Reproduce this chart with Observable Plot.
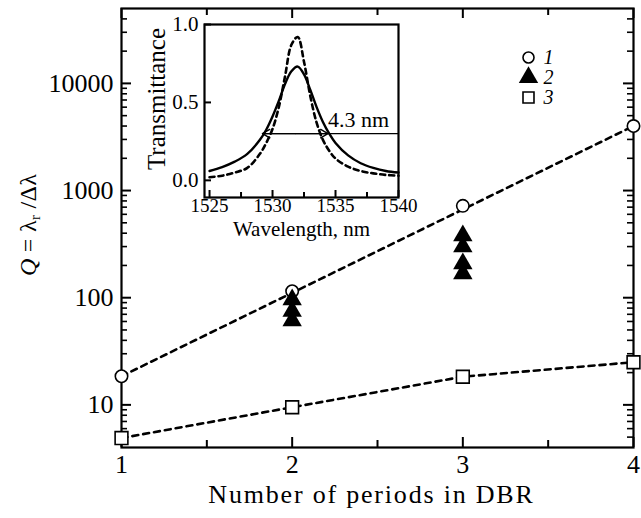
<!DOCTYPE html>
<html><head><meta charset="utf-8">
<script src="https://cdn.jsdelivr.net/npm/d3@7"></script>
<script src="https://cdn.jsdelivr.net/npm/@observablehq/plot@0.6"></script>
<style>
html,body{margin:0;padding:0;background:#fff;}
#wrap{position:relative;width:641px;height:518px;font-family:"Liberation Serif","Times New Roman",serif;color:#000;}
#wrap svg{position:absolute;overflow:visible;font-family:"Liberation Serif","Times New Roman",serif !important;}
#wrap svg text{font-family:"Liberation Serif","Times New Roman",serif !important;}
#ylab{position:absolute;left:28px;top:225px;transform:translate(-50%,-50%) rotate(-90deg);font-size:24px;letter-spacing:0.3px;white-space:nowrap;font-family:"Liberation Serif",serif;}
#ylab sub{font-size:0.62em;vertical-align:-0.28em;line-height:0;}
</style></head><body><div id="wrap"><div id="ylab"><i>Q</i> = λ<sub>r</sub> /Δλ</div></div>
<script>
// ---- main chart data ----
const periods = [1, 2, 3, 4];
const q1 = [18.5, 115, 720, 4000];          // series 1 (open circles)
const q3 = [4.9, 9.5, 18.3, 25];            // series 3 (open squares)
const tri2X = [2, 2, 2, 3, 3, 3, 3];        // series 2 (filled triangles)
const tri2Y = [96, 75, 61, 380, 300, 208, 168];
const fit1X = [1, 4];                       // dashed guide through series 1
const fit1Y = [18.5, 4000];
const xMajor = [1, 2, 3, 4];
const xMinor = [1.5, 2.5, 3.5];
const yMajor = [10, 100, 1000, 10000];
const yMinor = [5, 6, 7, 8, 9, 20, 30, 40, 50, 60, 70, 80, 90, 200, 300, 400, 500, 600, 700, 800, 900,
                2000, 3000, 4000, 5000, 6000, 7000, 8000, 9000, 20000, 30000, 40000];
const xTitle = "Number of periods in DBR";
const legendLabels = ["1", "2", "3"];

// ---- inset data ----
const wl = [1525, 1526, 1527, 1528, 1529, 1529.5, 1530, 1530.5, 1531, 1531.5, 1532, 1532.5, 1533, 1533.5, 1534, 1534.5, 1535, 1536, 1537, 1538, 1539, 1540];
const tSolid = [0.06, 0.085, 0.12, 0.17, 0.26, 0.325, 0.41, 0.51, 0.62, 0.70, 0.73, 0.68, 0.58, 0.47, 0.375, 0.30, 0.24, 0.16, 0.11, 0.08, 0.06, 0.05];
const tDash  = [0.02, 0.03, 0.05, 0.08, 0.17, 0.24, 0.33, 0.47, 0.67, 0.87, 0.92, 0.76, 0.54, 0.37, 0.26, 0.19, 0.14, 0.088, 0.06, 0.045, 0.035, 0.03];
const insetXTicks = [1525, 1530, 1535, 1540];
const insetXMinor = [1527.5, 1532.5, 1537.5];
const insetYTicks = [0, 0.5, 1.0];
const fwhmY = 0.30, fwhmLeft = 1529.2, fwhmRight = 1534.4, fwhmLineEnd = 1540;
const fwhmLabel = "4.3 nm";
const insetXTitle = "Wavelength, nm";
const insetYTitle = "Transmittance";

const FONT = '"Liberation Serif", "Times New Roman", serif';
const wrap = document.getElementById("wrap");

// ---- main plot ----
const W = 641, H = 518, mL = 121, mR = 8, mT = 8, mB = 71;
const iW = W - mL - mR, iH = H - mT - mB;
const s1 = periods.map((p, i) => ({x: p, y: q1[i]}));
const s3 = periods.map((p, i) => ({x: p, y: q3[i]}));
const s2 = tri2X.map((p, i) => ({x: p, y: tri2Y[i]}));
const f1 = fit1X.map((p, i) => ({x: p, y: fit1Y[i]}));
const dash = {stroke: "#000", strokeWidth: 2.6, strokeDasharray: "6,5"};

const main = Plot.plot({
  width: W, height: H, marginLeft: mL, marginRight: mR, marginTop: mT, marginBottom: mB,
  style: {fontFamily: FONT, background: "transparent", color: "#000", fontSize: "26px"},
  x: {domain: [1, 4]},
  y: {type: "log", domain: [4, 50000]},
  marks: [
    Plot.axisX({ticks: xMajor, tickSize: 0, tickPadding: 7, fontSize: 26, tickFormat: d => String(d), label: null}),
    Plot.axisY({ticks: yMajor, tickSize: 0, tickPadding: 8, fontSize: 26, tickFormat: d => String(d), label: null}),
    Plot.text([xTitle], {frameAnchor: "bottom", textAnchor: "middle", lineAnchor: "top", dy: 37, dx: -6, fontSize: 26, text: d => d}),
    Plot.ruleX(xMajor, {x: d => d, insetTop: iH - 10, stroke: "#000", strokeWidth: 2}),
    Plot.ruleX(xMajor, {x: d => d, insetBottom: iH - 10, stroke: "#000", strokeWidth: 2}),
    Plot.ruleX(xMinor, {x: d => d, insetTop: iH - 7, stroke: "#000", strokeWidth: 2}),
    Plot.ruleX(xMinor, {x: d => d, insetBottom: iH - 7, stroke: "#000", strokeWidth: 2}),
    Plot.ruleY(yMajor, {y: d => d, insetRight: iW - 10, stroke: "#000", strokeWidth: 2}),
    Plot.ruleY(yMajor, {y: d => d, insetLeft: iW - 10, stroke: "#000", strokeWidth: 2}),
    Plot.ruleY(yMinor, {y: d => d, insetRight: iW - 6, stroke: "#000", strokeWidth: 1.6}),
    Plot.ruleY(yMinor, {y: d => d, insetLeft: iW - 6, stroke: "#000", strokeWidth: 1.6}),
    Plot.frame({stroke: "#000", strokeWidth: 2.2}),
    Plot.line(f1, {x: "x", y: "y", ...dash}),
    Plot.line(s3, {x: "x", y: "y", ...dash}),
    Plot.dot(s1, {x: "x", y: "y", r: 6.2, symbol: "circle", stroke: "#000", strokeWidth: 1.6, fill: "#fff"}),
    Plot.dot(s3, {x: "x", y: "y", r: 7.2, symbol: "square", stroke: "#000", strokeWidth: 1.6, fill: "#fff"}),
    Plot.dot(s2, {x: "x", y: "y", r: 7.2, symbol: "triangle", fill: "#000", stroke: "none"})
  ]
});
main.style.left = "0px"; main.style.top = "0px";
main.querySelectorAll("text").forEach(t => { if (t.textContent === xTitle) t.setAttribute("letter-spacing", "1.8"); });
wrap.appendChild(main);

// ---- legend ----
const legend = Plot.plot({
  width: 70, height: 100, margin: 0,
  style: {fontFamily: FONT, background: "transparent", color: "#000"},
  x: {domain: [0, 1], range: [18, 33], axis: null},
  y: {type: "point", domain: legendLabels, range: [17, 77], axis: null},
  marks: [
    Plot.dot([legendLabels[0]], {x: () => 0, y: d => d, r: 5.5, symbol: "circle", stroke: "#000", strokeWidth: 1.6, fill: "#fff"}),
    Plot.dot([legendLabels[1]], {x: () => 0, y: d => d, r: 7.2, symbol: "triangle", fill: "#000"}),
    Plot.dot([legendLabels[2]], {x: () => 0, y: d => d, r: 6.2, symbol: "square", stroke: "#000", strokeWidth: 1.6, fill: "#fff"}),
    Plot.text(legendLabels, {x: () => 1, y: d => d, text: d => d, textAnchor: "start", fontStyle: "italic", fontSize: 20})
  ]
});
legend.style.left = "510px"; legend.style.top = "30px";
wrap.appendChild(legend);

// ---- inset ----
const IW = 270, IH = 240, imL = 64, imR = 12, imT = 24, imB = 43;
const iiW = IW - imL - imR, iiH = IH - imT - imB;
const solid = wl.map((w, i) => ({x: w, y: tSolid[i]}));
const dashed = wl.map((w, i) => ({x: w, y: tDash[i]}));
const mid = (fwhmLeft + fwhmRight) / 2;
const inset = Plot.plot({
  width: IW, height: IH, marginLeft: imL, marginRight: imR, marginTop: imT, marginBottom: imB,
  style: {fontFamily: FONT, background: "transparent", color: "#000", fontSize: "20px"},
  x: {domain: [1524.6, 1540]},
  y: {domain: [-0.11, 1.0]},
  marks: [
    Plot.axisX({ticks: insetXTicks, tickSize: 0, tickPadding: 1, fontSize: 19, tickFormat: d => String(d), label: null}),
    Plot.axisY({ticks: insetYTicks, tickSize: 0, tickPadding: 6, fontSize: 21, tickFormat: d => d.toFixed(1), label: null}),
    Plot.text([insetXTitle], {frameAnchor: "bottom", textAnchor: "middle", lineAnchor: "top", dy: 24, fontSize: 21, text: d => d}),
    Plot.text([insetYTitle], {frameAnchor: "left", textAnchor: "middle", lineAnchor: "middle", rotate: -90, dx: -48, dy: -12, fontSize: 25, text: d => d}),
    Plot.ruleX(insetXTicks, {x: d => d, insetTop: iiH - 7, stroke: "#000", strokeWidth: 2}),
    Plot.ruleX(insetXMinor, {x: d => d, insetTop: iiH - 5, stroke: "#000", strokeWidth: 2}),
    Plot.ruleY(insetYTicks, {y: d => d, insetRight: iiW - 7, stroke: "#000", strokeWidth: 2}),
    Plot.frame({stroke: "#000", strokeWidth: 2.2}),
    Plot.line(dashed, {x: "x", y: "y", stroke: "#000", strokeWidth: 2.6, strokeDasharray: "5,4", curve: "catmull-rom"}),
    Plot.line(solid, {x: "x", y: "y", stroke: "#000", strokeWidth: 2.4, curve: "catmull-rom"}),
    Plot.ruleY([fwhmY], {y: d => d, x1: fwhmLeft, x2: fwhmLineEnd, stroke: "#000", strokeWidth: 1.4}),
    Plot.arrow([0], {x1: mid, y1: fwhmY, x2: fwhmLeft, y2: fwhmY, stroke: "#000", strokeWidth: 1.4, headLength: 9}),
    Plot.arrow([0], {x1: mid, y1: fwhmY, x2: fwhmRight, y2: fwhmY, stroke: "#000", strokeWidth: 1.4, headLength: 9}),
    Plot.text([fwhmLabel], {x: fwhmRight, y: fwhmY, dy: -14, textAnchor: "start", fontSize: 22, text: d => d})
  ]
});
inset.style.left = "140px"; inset.style.top = "0px";
wrap.appendChild(inset);
</script></body></html>
